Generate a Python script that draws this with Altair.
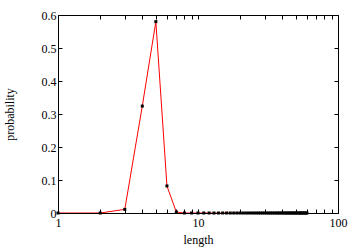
import altair as alt
import pandas as pd

lengths = [1, 2, 3, 4, 5, 6, 7, 8, 9, 10, 11, 12, 13, 14, 15, 16, 17, 18, 19, 20,
           21, 22, 23, 24, 25, 26, 27, 28, 29, 30, 31, 32, 33, 34, 35, 36, 37, 38, 39, 40,
           41, 42, 43, 44, 45, 46, 47, 48, 49, 50, 51, 52, 53, 54, 55, 56, 57, 58, 59, 60]
probs = [0.0, 0.0, 0.011, 0.324, 0.580, 0.082, 0.003, 0.0, 0.0, 0.0,
         0.0, 0.0, 0.0, 0.0, 0.0, 0.0, 0.0, 0.0, 0.0, 0.0,
         0.0, 0.0, 0.0, 0.0, 0.0, 0.0, 0.0, 0.0, 0.0, 0.0,
         0.0, 0.0, 0.0, 0.0, 0.0, 0.0, 0.0, 0.0, 0.0, 0.0,
         0.0, 0.0, 0.0, 0.0, 0.0, 0.0, 0.0, 0.0, 0.0, 0.0,
         0.0, 0.0, 0.0, 0.0, 0.0, 0.0, 0.0, 0.0, 0.0, 0.0]
x_ticks = [1, 2, 3, 4, 5, 6, 7, 8, 9, 10, 20, 30, 40, 50, 60, 70, 80, 90, 100]
y_ticks = [0, 0.1, 0.2, 0.3, 0.4, 0.5, 0.6]

df = pd.DataFrame({"length": lengths, "probability": probs})

FONT = "Liberation Serif"
xscale = alt.Scale(type="log", domain=[1, 100], nice=False)
yscale = alt.Scale(domain=[0, 0.6], nice=False, zero=True)

x_bottom = alt.Axis(orient="bottom", values=x_ticks,
                    labelExpr="(datum.value == 1 || datum.value == 10 || datum.value == 100) ? datum.label : ''",
                    tickSize={"expr": "-4"}, labelPadding=8, grid=False, domain=False,
                    title="length", titlePadding=6, labelFlush=False)
y_left = alt.Axis(orient="left", values=y_ticks, format="g", tickSize={"expr": "-4"}, labelPadding=6,
                  grid=False, domain=False, title="probability", titlePadding=25, labelFlush=False)
x_top = alt.Axis(orient="top", values=x_ticks, labels=False, tickSize={"expr": "-4"}, grid=False,
                 domain=False, title=None)
y_right = alt.Axis(orient="right", values=y_ticks, labels=False, tickSize={"expr": "-4"}, grid=False,
                   domain=False, title=None)

base = alt.Chart(df)
line = base.mark_line(color="#ff0000", strokeWidth=1, clip=True).encode(
    x=alt.X("length:Q", scale=xscale, axis=x_bottom),
    y=alt.Y("probability:Q", scale=yscale, axis=y_left),
)
pts = base.mark_point(filled=True, color="black", size=9, opacity=1, shape="square").encode(
    x=alt.X("length:Q", scale=xscale, axis=x_top),
    y=alt.Y("probability:Q", scale=yscale, axis=y_right),
)

chart = alt.layer(line, pts).resolve_axis(x="independent", y="independent").properties(
    width=280, height=198,
    background="white",
    autosize=alt.AutoSizeParams(type="none"),
    padding={"left": 58, "top": 15, "right": 22, "bottom": 39},
).configure_view(stroke="black", strokeWidth=1).configure_axis(
    labelFont=FONT, titleFont=FONT, labelFontSize=12, titleFontSize=12,
    labelColor="black", titleColor="black", tickColor="black", titleFontWeight="normal",
)

chart.save("out.html", embed_options={"renderer": "svg", "actions": False})
